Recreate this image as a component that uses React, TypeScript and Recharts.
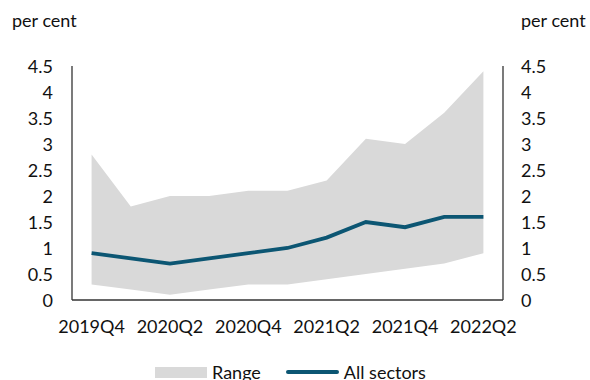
import React from "react";
import {
  ComposedChart,
  Area,
  Line,
  XAxis,
  YAxis,
} from "recharts";

const quarters = [
  "2019Q4", "2020Q1", "2020Q2", "2020Q3", "2020Q4",
  "2021Q1", "2021Q2", "2021Q3", "2021Q4", "2022Q1", "2022Q2",
];
const rangeLow = [0.3, 0.2, 0.1, 0.2, 0.3, 0.3, 0.4, 0.5, 0.6, 0.7, 0.9];
const rangeHigh = [2.8, 1.8, 2.0, 2.0, 2.1, 2.1, 2.3, 3.1, 3.0, 3.6, 4.4];
const allSectors = [0.9, 0.8, 0.7, 0.8, 0.9, 1.0, 1.2, 1.5, 1.4, 1.6, 1.6];
const yTicks = [0, 0.5, 1, 1.5, 2, 2.5, 3, 3.5, 4, 4.5];

const data = quarters.map((q, i) => ({
  q,
  range: [rangeLow[i], rangeHigh[i]],
  all: allSectors[i],
}));

const FONT = "Lato, 'Noto Sans', sans-serif";
const LINE = "#0c5673";
const GREY = "#d9d9d9";
const TXT = "#111";
const FS = 18;

const makeTick = (anchor: "start" | "middle" | "end", dy: number) => (props: any) => {
  const { x, y, payload } = props;
  return (
    <text
      x={x}
      y={y}
      dy={dy}
      textAnchor={anchor}
      fontSize={FS}
      fontFamily={FONT}
      fill={TXT}
    >
      {payload.value}
    </text>
  );
};

const XTick = makeTick("middle", 14);
const LTick = makeTick("end", 6.5);
const RTick = makeTick("start", 6.5);

const LegendContent = () => (
  <div
    style={{
      display: "flex",
      justifyContent: "flex-start",
      alignItems: "center",
      fontFamily: FONT,
      fontSize: FS,
      lineHeight: "22px",
      color: TXT,
      paddingLeft: 155,
    }}
  >
    <div style={{ width: 52, height: 11, background: GREY, marginRight: 5 }} />
    <span style={{ marginRight: 25 }}>Range</span>
    <div style={{ width: 53, height: 4, background: LINE, marginRight: 5, borderRadius: 2 }} />
    <span>All sectors</span>
  </div>
);

export default function App() {
  return (
    <div style={{ position: "absolute", left: 0, top: 0, width: 590, height: 380, background: "#fff", overflow: "hidden" }}>
      <div style={{ position: "absolute", left: 12, top: 9, fontFamily: FONT, fontSize: FS, color: TXT }}>per cent</div>
      <div style={{ position: "absolute", left: 521, top: 9, fontFamily: FONT, fontSize: FS, color: TXT }}>per cent</div>
      <ComposedChart
        width={590}
        height={380}
        data={data}
        margin={{ top: 66, right: 10, left: 0, bottom: 32 }}
      >
        <XAxis
          dataKey="q"
          scale="band"
          interval={1}
          tickLine={false}
          tickSize={6}
          tickMargin={13}
          axisLine={{ stroke: "#333", strokeWidth: 1.3 }}
          tick={XTick}
          height={48}
        />
        <XAxis
          xAxisId="top"
          dataKey="q"
          scale="band"
          orientation="top"
          tick={false}
          tickLine={false}
          axisLine={{ stroke: "#666", strokeWidth: 1.3 }}
          height={0}
        />
        <YAxis
          yAxisId="left"
          domain={[0, 4.5]}
          ticks={yTicks}
          interval={0}
          tickLine={false}
          tickSize={6}
          tickMargin={13}
          axisLine={{ stroke: "#333", strokeWidth: 1.3 }}
          tick={LTick}
          width={72}
        />
        <YAxis
          yAxisId="right"
          orientation="right"
          domain={[0, 4.5]}
          ticks={yTicks}
          interval={0}
          tickLine={false}
          tickSize={6}
          tickMargin={12}
          axisLine={{ stroke: "#333", strokeWidth: 1.3 }}
          tick={RTick}
          width={77}
        />
        <Area
          yAxisId="left"
          dataKey="range"
          type="linear"
          fill={GREY}
          fillOpacity={1}
          stroke="none"
          isAnimationActive={false}
          name="Range"
        />
        <Line
          yAxisId="left"
          dataKey="all"
          type="linear"
          stroke={LINE}
          strokeWidth={3.8}
          dot={false}
          isAnimationActive={false}
          name="All sectors"
        />
        <Line
          xAxisId="top"
          yAxisId="right"
          dataKey="all"
          type="linear"
          stroke="none"
          dot={false}
          activeDot={false}
          legendType="none"
          isAnimationActive={false}
        />
        <foreignObject x={0} y={361} width={590} height={24}>
          <LegendContent />
        </foreignObject>
      </ComposedChart>
    </div>
  );
}
